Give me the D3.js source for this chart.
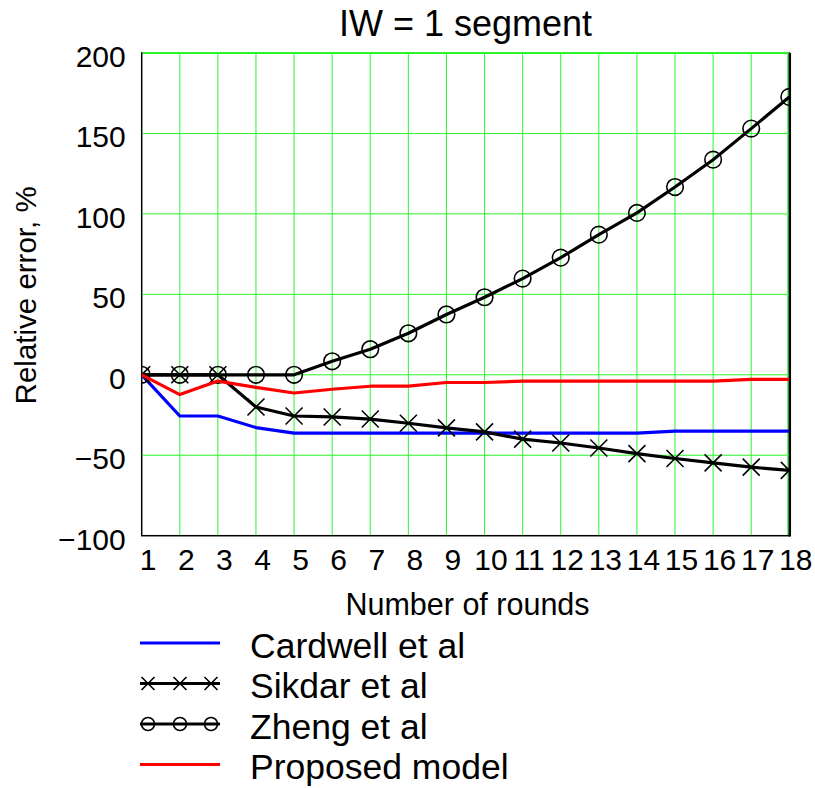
<!DOCTYPE html>
<html>
<head>
<meta charset="utf-8">
<script src="https://cdn.jsdelivr.net/npm/d3@7"></script>
<style>
  html, body { margin: 0; padding: 0; background: #fff; }
  svg { display: block; }
  text { font-family: "Liberation Sans", Arial, sans-serif; fill: #000; }
</style>
</head>
<body>
<svg id="chart" width="815" height="788"></svg>
<script>
// ---- data ----
const rounds = [1,2,3,4,5,6,7,8,9,10,11,12,13,14,15,16,17,18];
const cardwell = [0,-25.6,-25.6,-32.8,-36.2,-36.2,-36.2,-36.2,-36.2,-36.2,-36.2,-36.2,-36.2,-36.2,-35,-35,-35,-35];
const sikdar   = [0,0,0,-20,-25.6,-26.2,-27.5,-30.1,-33,-35.5,-40,-42.4,-45.5,-49,-52,-54.7,-57.4,-59.4];
const zheng    = [0,0,0,0,0,8.4,15.9,25.8,37.5,48.2,59.8,72.8,87.1,100.6,116.7,133.7,153,172.7];
const proposed = [0,-12.3,-3.9,-7.8,-11.3,-9,-7.1,-7,-4.8,-4.8,-3.9,-3.9,-3.9,-3.9,-3.9,-3.9,-2.8,-2.8];
const yTicks = [-100,-50,0,50,100,150,200];
const seriesNames = ["Cardwell et al","Sikdar et al","Zheng et al","Proposed model"];
const titleText = "IW = 1 segment";
const xTitle = "Number of rounds";
const yTitle = "Relative error, %";

const series = [
  {name: seriesNames[0], values: cardwell, color: "#0000ff", marker: null},
  {name: seriesNames[1], values: sikdar,   color: "#000000", marker: "x"},
  {name: seriesNames[2], values: zheng,    color: "#000000", marker: "o"},
  {name: seriesNames[3], values: proposed, color: "#ff0000", marker: null}
];

// ---- layout ----
const L = 141.7, R = 789.3, T = 53, B = 535.7;
const svg = d3.select("#chart");
const x = d3.scaleLinear().domain([1,18]).range([L,R]);
const y = d3.scaleLinear().domain([-100,200]).range([B,T]);
const GREEN = "#2af52a";

svg.append("defs").append("clipPath").attr("id","plotclip")
  .append("rect").attr("x",L).attr("y",T).attr("width",R-L).attr("height",B-T);

// frame (black)
svg.append("rect").attr("x",L).attr("y",T).attr("width",R-L).attr("height",B-T)
  .attr("fill","none").attr("stroke","#000").attr("stroke-width",1.5);
svg.append("line").attr("x1",R+0.5).attr("x2",R+0.5).attr("y1",T).attr("y2",B+0.75)
  .attr("stroke","#000").attr("stroke-width",2.5);

// grid
const g = svg.append("g");
g.selectAll("line.v").data(rounds.slice(1)).join("line")
  .attr("x1",d=>x(d)-(d===18?1.5:0)).attr("x2",d=>x(d)-(d===18?1.5:0))
  .attr("y1",T).attr("y2",B-0.75)
  .attr("stroke",GREEN).attr("stroke-width",1);
g.selectAll("line.h").data(yTicks.slice(1)).join("line")
  .attr("x1",L+0.75).attr("x2",R-0.5).attr("y1",d=>y(d)).attr("y2",d=>y(d))
  .attr("stroke",GREEN).attr("stroke-width",d=>d===200?2:1);

// axes labels via d3 axes
const xAxis = d3.axisBottom(x).tickValues(rounds).tickSize(0).tickPadding(0).tickFormat(d3.format("d"));
const xa = svg.append("g").attr("transform",`translate(0,${B})`).call(xAxis);
xa.select(".domain").remove();
xa.selectAll("text").attr("dy",null).attr("y",34).attr("dx",6)
  .style("font-size","30px").attr("fill","#000");

const yAxis = d3.axisLeft(y).tickValues(yTicks).tickSize(0).tickPadding(0)
  .tickFormat(d => d < 0 ? "\u2212" + Math.abs(d) : String(d));
const ya = svg.append("g").attr("transform",`translate(${L},0)`).call(yAxis);
ya.select(".domain").remove();
ya.selectAll("text").attr("dy",null).attr("y",13.5).attr("x",-16)
  .style("font-size","30px").attr("fill","#000").attr("text-anchor","end");

// series
const plot = svg.append("g").attr("clip-path","url(#plotclip)");
const line = d3.line().x((d,i)=>x(rounds[i])).y(d=>y(d));

function drawMarker(sel, type, cx, cy, r) {
  if (type === "x") {
    sel.append("path")
      .attr("d",`M${cx-r},${cy-r}L${cx+r},${cy+r}M${cx-r},${cy+r}L${cx+r},${cy-r}`)
      .attr("stroke","#000").attr("stroke-width",1.6).attr("fill","none");
  } else if (type === "o") {
    sel.append("circle").attr("cx",cx).attr("cy",cy).attr("r",r)
      .attr("stroke","#000").attr("stroke-width",1.6).attr("fill","none");
  }
}

series.forEach(s => {
  plot.append("path").datum(s.values).attr("d",line)
    .attr("fill","none").attr("stroke",s.color).attr("stroke-width",3.2)
    .attr("stroke-linejoin","round");
  if (s.marker) {
    s.values.forEach((v,i) => drawMarker(plot, s.marker, x(rounds[i]), y(v), s.marker==="x"?8.5:8.3));
  }
});

// titles
svg.append("text").attr("x",(L+R)/2).attr("y",36).attr("text-anchor","middle")
  .style("font-size","36px").text(titleText);
svg.append("text").attr("x",(L+R)/2+2).attr("y",615).attr("text-anchor","middle")
  .style("font-size","30.5px").text(xTitle);
svg.append("text").attr("transform",`translate(36,${(T+B)/2+1}) rotate(-90)`)
  .attr("text-anchor","middle").style("font-size","29.5px").text(yTitle);

// legend
const legY0 = 643, legDy = 40.5;
const leg = svg.append("g");
series.forEach((s,i) => {
  const ly = legY0 + i*legDy;
  leg.append("line").attr("x1",140).attr("x2",220).attr("y1",ly).attr("y2",ly)
    .attr("stroke",s.color).attr("stroke-width",3.2);
  if (s.marker) {
    [148,180,211].forEach(mx => drawMarker(leg, s.marker, mx, ly, 6.5));
  }
  leg.append("text").attr("x",250).attr("y",ly+14.5).style("font-size","35.5px").text(s.name);
});
</script>
</body>
</html>
